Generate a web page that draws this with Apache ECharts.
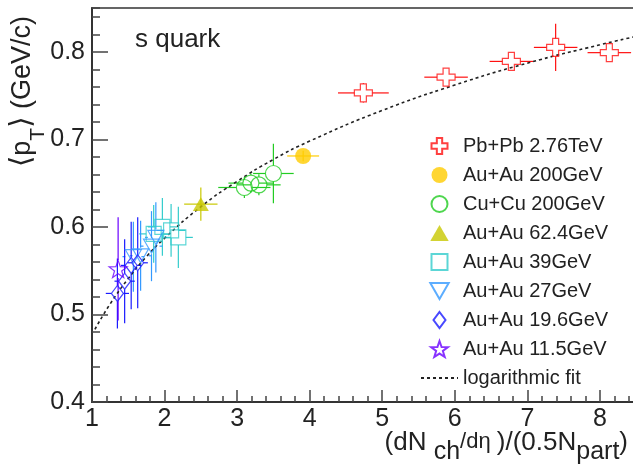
<!DOCTYPE html>
<html>
<head>
<meta charset="utf-8">
<title>s quark mean pT</title>
<script src="https://cdn.jsdelivr.net/npm/echarts@6/dist/echarts.min.js"></script>
<style>
  html, body { margin: 0; padding: 0; background: #fff; }
  #main { width: 633px; height: 471px; }
</style>
</head>
<body>
<div id="main"></div>
<script>
// Pb+Pb 2.76TeV
var pbX  = [4.74, 5.88, 6.78, 7.39, 8.13];
var pbY  = [0.753, 0.771, 0.789, 0.805, 0.799];
var pbEx = [0.35, 0.30, 0.30, 0.30, 0.30];
var pbEy = [0.011, 0.009, 0.008, 0.027, 0.007];
// Au+Au 200GeV
var au200X  = [3.91];
var au200Y  = [0.681];
var au200Ex = [0.22];
var au200Ey = [0.006];
// Cu+Cu 200GeV
var cuX  = [3.10, 3.19, 3.30, 3.50];
var cuY  = [0.645, 0.650, 0.648, 0.661];
var cuEx = [0.36, 0.31, 0.30, 0.28];
var cuEy = [0.012, 0.011, 0.012, 0.034];
// Au+Au 62.4GeV
var au62X  = [2.50];
var au62Y  = [0.626];
var au62Ex = [0.23];
var au62Ey = [0.019];
// Au+Au 39GeV
var au39X  = [1.85, 1.97, 2.09, 2.19];
var au39Y  = [0.592, 0.600, 0.596, 0.588];
var au39Ex = [0.20, 0.20, 0.20, 0.20];
var au39Ey = [0.033, 0.033, 0.030, 0.035];
// Au+Au 27GeV
var au27X  = [1.57, 1.67, 1.82, 1.88];
var au27Y  = [0.566, 0.567, 0.578, 0.588];
var au27Ex = [0.15, 0.15, 0.15, 0.15];
var au27Ey = [0.040, 0.040, 0.040, 0.040];
// Au+Au 19.6GeV
var au19X  = [1.35, 1.45, 1.54, 1.63];
var au19Y  = [0.524, 0.538, 0.556, 0.559];
var au19Ex = [0.16, 0.14, 0.14, 0.14];
var au19Ey = [0.040, 0.048, 0.050, 0.052];
// Au+Au 11.5GeV
var au11X  = [1.36];
var au11Y  = [0.552];
var au11Ex = [0.08];
var au11Ey = [0.059];
// logarithmic fit
var fitX = [1.04, 1.25, 1.5, 1.75, 2, 2.5, 3, 3.5, 4, 5, 6, 7, 8, 8.47];
var fitY = [0.483, 0.512, 0.541, 0.566, 0.587, 0.623, 0.652, 0.677, 0.698, 0.733, 0.762, 0.787, 0.808, 0.817];

var FONT = '"Liberation Sans", Arial, Helvetica, sans-serif';
// path symbols keep their aspect in the legend too
var CROSS = 'path://M-1,-3L1,-3L1,-1L3,-1L3,1L1,1L1,3L-1,3L-1,1L-3,1L-3,-1L-1,-1Z';
var STAR = 'path://M0,-10L2.35,-3.24L9.51,-3.09L3.8,1.24L5.88,8.09L0,4.2L-5.88,8.09L-3.8,1.24L-9.51,-3.09L-2.35,-3.24Z';
var SQUARE = 'path://M-1,-1L1,-1L1,1L-1,1Z';
var TRI_UP = 'path://M0,-0.87L1,0.87L-1,0.87Z';
var TRI_DOWN = 'path://M-1,-0.87L1,-0.87L0,0.87Z';
var DIAMOND = 'path://M0,-4L3,0L0,4L-3,0Z';

var groups = [
  {name: 'Pb+Pb 2.76TeV', x: pbX, y: pbY, ex: pbEx, ey: pbEy, color: '#ff1010', symbol: CROSS, size: 18, hollow: true},
  {name: 'Au+Au 200GeV', x: au200X, y: au200Y, ex: au200Ex, ey: au200Ey, color: '#ffcc00', symbol: 'circle', size: 16, hollow: false},
  {name: 'Cu+Cu 200GeV', x: cuX, y: cuY, ex: cuEx, ey: cuEy, color: '#22cc22', symbol: 'circle', size: 16, hollow: true},
  {name: 'Au+Au 62.4GeV', x: au62X, y: au62Y, ex: au62Ex, ey: au62Ey, color: '#c8c800', symbol: TRI_UP, size: 16, hollow: false},
  {name: 'Au+Au 39GeV', x: au39X, y: au39Y, ex: au39Ex, ey: au39Ey, color: '#33cccc', symbol: SQUARE, size: 15, hollow: true},
  {name: 'Au+Au 27GeV', x: au27X, y: au27Y, ex: au27Ex, ey: au27Ey, color: '#3399ff', symbol: TRI_DOWN, size: 16, hollow: true},
  {name: 'Au+Au 19.6GeV', x: au19X, y: au19Y, ex: au19Ex, ey: au19Ey, color: '#1a1aff', symbol: DIAMOND, size: 16, hollow: true},
  {name: 'Au+Au 11.5GeV', x: au11X, y: au11Y, ex: au11Ex, ey: au11Ey, color: '#6a00ff', symbol: STAR, size: 18, hollow: true}
];

function errorBars(gx, gy, color) {
  return function (params, api) {
    var x = api.value(0), y = api.value(1), ex = api.value(2), ey = api.value(3);
    var c = api.coord([x, y]);
    var l = api.coord([x - ex, y]), r = api.coord([x + ex, y]);
    var t = api.coord([x, y + ey]), b = api.coord([x, y - ey]);
    var kids = [];
    function seg(x1, y1, x2, y2) {
      kids.push({type: 'line', shape: {x1: x1, y1: y1, x2: x2, y2: y2},
        style: {stroke: color, lineWidth: 1.2}});
    }
    if (l[0] < c[0] - gx) seg(l[0], c[1], c[0] - gx, c[1]);
    if (r[0] > c[0] + gx) seg(c[0] + gx, c[1], r[0], c[1]);
    if (t[1] < c[1] - gy) seg(c[0], t[1], c[0], c[1] - gy);
    if (b[1] > c[1] + gy) seg(c[0], c[1] + gy, c[0], b[1]);
    return {type: 'group', children: kids};
  };
}

var series = [];
groups.forEach(function (g, i) {
  var pts = [], errs = [];
  for (var k = 0; k < g.x.length; k++) {
    pts.push([g.x[k], g.y[k]]);
    errs.push([g.x[k], g.y[k], g.ex[k], g.ey[k]]);
  }
  var gap = g.hollow ? g.size / 2 : 0;
  series.push({
    name: 'err' + i, type: 'custom', z: 2, silent: true,
    renderItem: errorBars(g.symbol === DIAMOND ? gap * 0.75 : gap, gap, g.color),
    encode: {x: 0, y: 1}, data: errs
  });
  series.push({
    name: g.name, type: 'scatter', z: 4, data: pts,
    symbol: g.symbol, symbolSize: g.size, symbolKeepAspect: true,
    itemStyle: g.hollow
      ? {color: 'rgba(255,255,255,0)', borderColor: g.color, borderWidth: 1.2}
      : {color: g.color, borderWidth: 0}
  });
});

var fitPts = fitX.map(function (v, k) { return [v, fitY[k]]; });
series.push({
  name: 'logarithmic fit', type: 'line', z: 3, data: fitPts, smooth: true,
  symbol: 'none', showSymbol: false,
  itemStyle: {color: 'rgba(0,0,0,0)'},
  lineStyle: {color: '#222', width: 1.6, type: [3, 3]}
});

var tickStyle = {color: '#444', width: 1.5};

var option = {
  animation: false,
  grid: {left: 92, right: -1, top: 8, bottom: 69, show: true, borderColor: '#333', borderWidth: 1.5,
         containLabel: false, outerBoundsMode: 'none'},
  legend: {
    orient: 'vertical', left: 415, top: 131, itemWidth: 37, itemHeight: 16, itemGap: 9,
    selectedMode: false,
    data: groups.map(function (g) { return g.name; }).concat(['logarithmic fit']),
    textStyle: {fontSize: 20, color: '#222', fontFamily: FONT}
  },
  xAxis: [
    {type: 'value', min: 1, max: 8.47, interval: 1,
     axisLine: {lineStyle: {color: '#333', width: 2}},
     axisTick: {inside: true, length: 12, lineStyle: tickStyle},
     axisLabel: {fontSize: 25, color: '#222', margin: 5, fontFamily: FONT, showMaxLabel: false},
     splitLine: {show: false}},
    {type: 'value', min: 1, max: 8.47, interval: 0.2, position: 'bottom',
     axisLine: {show: false},
     axisTick: {inside: true, length: 6, lineStyle: tickStyle},
     axisLabel: {show: false}, splitLine: {show: false}}
  ],
  yAxis: [
    {type: 'value', min: 0.4, max: 0.85, interval: 0.1,
     axisLine: {show: true, lineStyle: {color: '#333', width: 2}},
     axisTick: {show: true, inside: true, length: 16, lineStyle: tickStyle},
     axisLabel: {fontSize: 25, color: '#222', margin: 7, fontFamily: FONT, showMaxLabel: false,
                 formatter: function (v) { return v.toFixed(1); }},
     splitLine: {show: false}},
    {type: 'value', min: 0.4, max: 0.85, interval: 0.02, position: 'left',
     axisLine: {show: false},
     axisTick: {show: true, inside: true, length: 8, lineStyle: tickStyle},
     axisLabel: {show: false}, splitLine: {show: false}}
  ],
  graphic: [
    {type: 'text', x: 135, y: 40, silent: true,
     style: {text: 's quark', fontSize: 26, fontFamily: FONT, fill: '#222', verticalAlign: 'middle'}},
    {type: 'text', x: 628, y: 430, silent: true,
     style: {
       text: '{m|(dN }{s|ch}{d|/dη }{m|)/(0.5N}{s|part}{m|)}',
       align: 'right', verticalAlign: 'top', fill: '#222',
       rich: {
         m: {fontSize: 26, fontFamily: FONT, fill: '#222', padding: [0, 0, 11, 0]},
         s: {fontSize: 25, fontFamily: FONT, fill: '#222', padding: [10, 0, 2, 0]},
         d: {fontSize: 22, fontFamily: FONT, fill: '#222', padding: [1, 0, 14, 0]}
       }
     }},
    {type: 'text', x: 8, y: 167, rotation: Math.PI / 2, silent: true,
     style: {
       text: '{a|⟨}{m|p}{s|T}{a|⟩}{m| (GeV/c)}',
       align: 'left', verticalAlign: 'top', fill: '#222',
       rich: {
         a: {fontSize: 29, fontFamily: '"DejaVu Sans", sans-serif', fill: '#222', padding: [0, 0, 12, 0]},
         m: {fontSize: 27, fontFamily: FONT, fill: '#222', padding: [1, 0, 13, 0]},
         s: {fontSize: 21, fontFamily: FONT, fill: '#222', padding: [20, 0, 0, 0]}
       }
     }}
  ],
  series: series
};

var chart = echarts.init(document.getElementById('main'));
chart.setOption(option);
</script>
</body>
</html>
